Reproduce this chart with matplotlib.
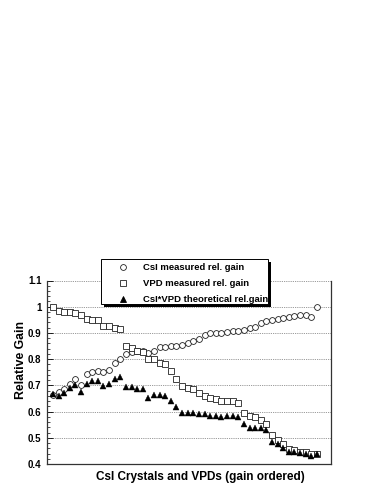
import matplotlib
matplotlib.use("Agg")
import matplotlib.pyplot as plt
from matplotlib.ticker import MultipleLocator, NullLocator
import numpy as np

plt.rcParams['font.family'] = ['Liberation Sans', 'DejaVu Sans']

csi_gain = [0.665, 0.674, 0.686, 0.706, 0.725, 0.701, 0.742, 0.751, 0.755, 0.751,
            0.759, 0.787, 0.800, 0.819, 0.826, 0.830, 0.830, 0.822, 0.832, 0.846,
            0.846, 0.849, 0.850, 0.853, 0.861, 0.870, 0.877, 0.894, 0.898, 0.898,
            0.901, 0.903, 0.906, 0.908, 0.912, 0.919, 0.921, 0.939, 0.947, 0.951,
            0.955, 0.957, 0.960, 0.963, 0.968, 0.970, 0.962, 1.000]
vpd_gain = [1.000, 0.985, 0.981, 0.979, 0.976, 0.970, 0.955, 0.951, 0.948, 0.928,
            0.925, 0.920, 0.914, 0.851, 0.842, 0.832, 0.829, 0.800, 0.800, 0.785,
            0.780, 0.754, 0.723, 0.699, 0.690, 0.686, 0.671, 0.661, 0.650, 0.648,
            0.641, 0.641, 0.641, 0.633, 0.594, 0.584, 0.581, 0.567, 0.552, 0.510,
            0.493, 0.476, 0.456, 0.452, 0.446, 0.446, 0.439, 0.437]
theo_gain = [0.666, 0.661, 0.672, 0.691, 0.700, 0.676, 0.705, 0.718, 0.718, 0.696,
             0.704, 0.724, 0.733, 0.692, 0.692, 0.686, 0.686, 0.653, 0.662, 0.662,
             0.659, 0.640, 0.618, 0.596, 0.596, 0.596, 0.590, 0.592, 0.583, 0.583,
             0.581, 0.583, 0.583, 0.581, 0.551, 0.536, 0.538, 0.536, 0.528, 0.485,
             0.477, 0.462, 0.445, 0.445, 0.442, 0.440, 0.429, 0.440]
labels = ["CsI measured rel. gain", "VPD measured rel. gain", "CsI*VPD theoretical rel.gain"]
yticks = [0.4, 0.5, 0.6, 0.7, 0.8, 0.9, 1.0, 1.1]
yticklabels = ["0.4", "0.5", "0.6", "0.7", "0.8", "0.9", "1", "1.1"]

W, H = 383, 495
fig = plt.figure(figsize=(W / 100, H / 100), dpi=100)
ax = fig.add_axes([47 / W, 1 - 464 / H, (331 - 47) / W, (464 - 280.5) / H])

x = np.arange(len(csi_gain))
ax.plot(x, csi_gain, linestyle='none', marker='o', ms=4.2, mfc='white', mec='#222222', mew=0.6, zorder=3)
ax.plot(x, vpd_gain, linestyle='none', marker='s', ms=4.3, mfc='white', mec='#222222', mew=0.6, zorder=3)
ax.plot(x, theo_gain, linestyle='none', marker='^', ms=4.3, mfc='black', mec='black', mew=0.3, zorder=4)

ax.set_xlim(-1.05, 49.5)
ax.set_ylim(0.4, 1.1)
ax.set_yticks(yticks)
ax.set_yticklabels(yticklabels, fontsize=7, fontweight='bold')
ax.yaxis.set_minor_locator(MultipleLocator(0.02))
ax.xaxis.set_major_locator(NullLocator())
ax.tick_params(axis='y', which='major', direction='in', length=4, width=0.6, pad=4)
ax.tick_params(axis='y', which='minor', direction='in', length=2, width=0.5)
ax.tick_params(axis='x', which='both', bottom=False, top=False)

for yv in yticks[1:]:
    ax.axhline(yv, color='#777777', linestyle=(0, (1, 1.2)), linewidth=0.6, zorder=1)

ax.spines['top'].set_visible(False)
for s in ['left', 'bottom', 'right']:
    ax.spines[s].set_linewidth(0.9)
    ax.spines[s].set_color('#333333')

fig.text(200 / W, 1 - 477 / H, "CsI Crystals and VPDs (gain ordered)", ha='center', va='center',
         fontsize=8.5, fontweight='bold')
fig.text(21.5 / W, 1 - 360 / H, "Relative Gain", ha='center', va='center', rotation=90,
         fontsize=8.8, fontweight='bold')

# legend box with shadow (ROOT style)
lx0, lx1, ly0, ly1 = 101, 268, 259, 304
shadow = plt.Rectangle((lx0 + 3, H - ly1 - 3), lx1 - lx0, ly1 - ly0, transform=None,
                       facecolor='black', edgecolor='none', zorder=5)
box = plt.Rectangle((lx0, H - ly1), lx1 - lx0, ly1 - ly0, transform=None,
                    facecolor='white', edgecolor='black', linewidth=0.7, zorder=6)
fig.patches.extend([shadow, box])
markers = [('o', 'white', '#222222'), ('s', 'white', '#222222'), ('^', 'black', 'black')]
rows = [267.3, 283.3, 299]
for (m, fc, ec), ry, lab in zip(markers, rows, labels):
    fig.lines.append(plt.Line2D([123 / W], [1 - ry / H], transform=fig.transFigure, marker=m,
                                ms=4.2, mfc=fc, mec=ec, mew=0.6, linestyle='none', zorder=7))
    fig.text(143 / W, 1 - ry / H, lab, ha='left', va='center', fontsize=6.8, fontweight='bold', zorder=7)

fig.savefig("out.png", dpi=100)
